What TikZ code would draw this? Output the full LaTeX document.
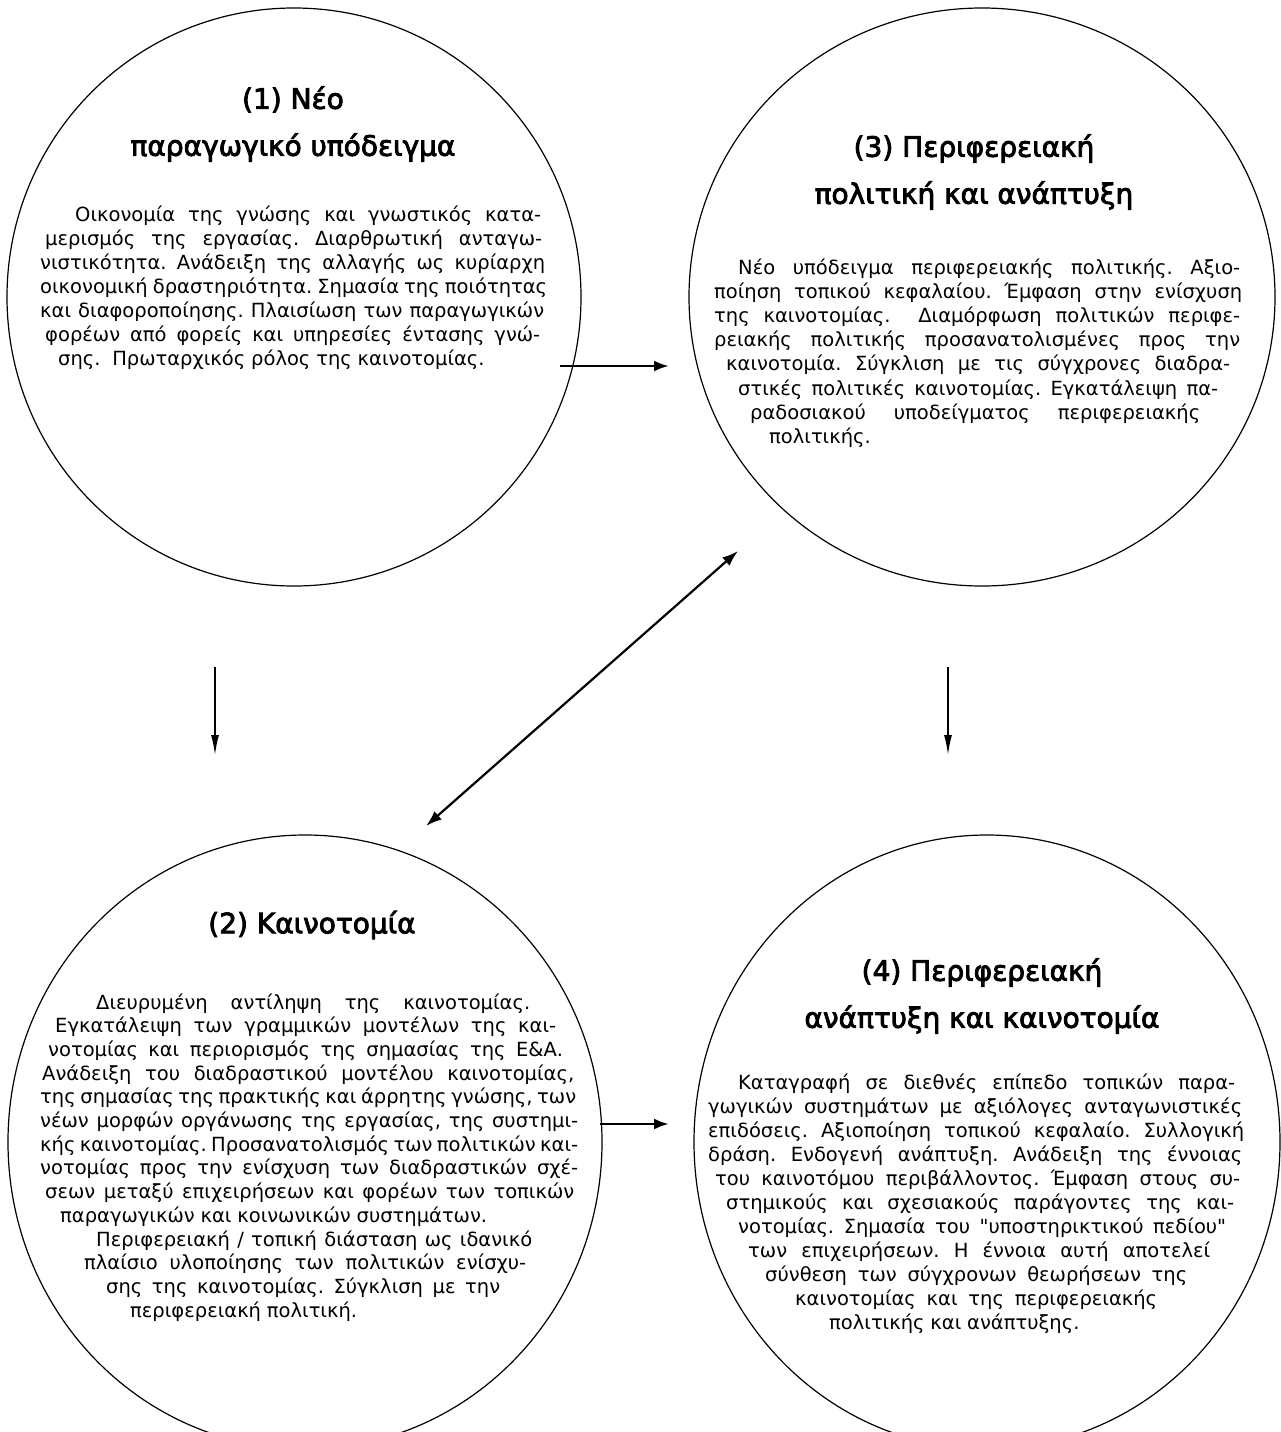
\documentclass[tikz,border=0pt]{standalone}
\usepackage{fontspec}
\setmainfont{DejaVu Sans}[Ligatures=TeXOff]
\newfontfamily\titlefam{DejaVu Sans}[FakeBold=3]
\usetikzlibrary{shapes.geometric,arrows.meta}
\newcommand\titlef{\titlefam\fontsize{28}{47}\selectfont}
\newcommand\bodyf{\fontsize{19.5}{24}\selectfont\frenchspacing\spaceskip=0.3em plus 1fil minus 0.15em\relax\lineskiplimit=-100pt\lineskip=0pt\relax}
\newcommand\JL[3]{\hbox{\hskip#1pt\hbox to \dimexpr#2pt-#1pt\relax{#3}}}
\newcommand\RL[2]{\hbox{\hskip#1pt #2}}
\tikzset{
  circ/.style={draw, ellipse, line width=1.2pt, inner sep=0pt, outer sep=0pt},
  ttl/.style={align=center, font=\titlef, inner sep=0pt},
  bodytext/.style={anchor=base west, inner sep=0pt, font=\bodyf},
  thickarrow/.style={line width=2.8pt, -{Latex[length=15pt,width=11pt]}},
  thinarrow/.style={line width=1.6pt, -{Latex[length=20pt,width=8pt]}},
  dblarrow/.style={line width=2.2pt, {Latex[length=16pt,width=11pt]}-{Latex[length=16pt,width=11pt]}},
}
\begin{document}
\begin{tikzpicture}[x=1pt,y=-1pt]
\useasboundingbox[fill=white] (0,0) rectangle (1280,1432);

% circles
\node[circ, minimum width=574pt, minimum height=578pt] (c1) at (294,297) {};
\node[circ, minimum width=586pt, minimum height=578pt] (c3) at (982,297) {};
\node[circ, minimum width=594pt, minimum height=614pt] (c2) at (305,1142) {};
\node[circ, minimum width=586pt, minimum height=614pt] (c4) at (987,1142) {};

% titles
\node[ttl] (t1) at (293,124) {(1) Νέο\\παραγωγικό υπόδειγμα};
\node[ttl] (t3) at (974,172) {(3) Περιφερειακή\\πολιτική και ανάπτυξη};
\node[ttl] (t2) at (312,925) {(2) Καινοτομία};
\node[ttl] (t4) at (982,996) {(4) Περιφερειακή\\ανάπτυξη και καινοτομία};

% body 1
\node[bodytext] (b1) at (0,221) {\vtop{\baselineskip=24pt
\JL{75}{541}{Οικονομία της γνώσης και γνωστικός κατα-}
\JL{45}{542}{μερισμός της εργασίας. Διαρθρωτική ανταγω-}
\JL{40}{545}{νιστικότητα. Ανάδειξη της αλλαγής ως κυρίαρχη}
\JL{40}{547}{οικονομική δραστηριότητα. Σημασία της ποιότητας}
\JL{40}{544}{και διαφοροποίησης. Πλαισίωση των παραγωγικών}
\JL{45}{540}{φορέων από φορείς και υπηρεσίες έντασης γνώ-}
\RL{58}{σης.\ \ Πρωταρχικός ρόλος της καινοτομίας.}}};

% body 3
\node[bodytext] (b3) at (0,274) {\vtop{\baselineskip=24.2pt
\JL{738}{1240}{Νέο υπόδειγμα περιφερειακής πολιτικής. Αξιο-}
\JL{714}{1242}{ποίηση τοπικού κεφαλαίου. Έμφαση στην ενίσχυση}
\JL{714}{1240}{της καινοτομίας.\ \ Διαμόρφωση πολιτικών περιφε-}
\JL{714}{1240}{ρειακής πολιτικής προσανατολισμένες προς την}
\JL{726}{1230}{καινοτομία. Σύγκλιση με τις σύγχρονες διαδρα-}
\JL{738}{1218}{στικές πολιτικές καινοτομίας. Εγκατάλειψη πα-}
\JL{750}{1200}{ραδοσιακού υποδείγματος περιφερειακής}
\RL{769}{πολιτικής.}}};

% body 2
\node[bodytext] (b2) at (0,1009) {\vtop{\baselineskip=23.7pt
\JL{96}{530}{Διευρυμένη αντίληψη της καινοτομίας.}
\JL{55}{556}{Εγκατάλειψη των γραμμικών μοντέλων της και-}
\JL{48}{563}{νοτομίας και περιορισμός της σημασίας της Ε\&Α.}
\JL{42}{574}{Ανάδειξη του διαδραστικού μοντέλου καινοτομίας,}
\JL{40}{576}{της σημασίας της πρακτικής και άρρητης γνώσης, των}
\JL{40}{578}{νέων μορφών οργάνωσης της εργασίας, της συστημι-}
\JL{40}{578}{κής καινοτομίας. Προσανατολισμός των πολιτικών και-}
\JL{40}{578}{νοτομίας προς την ενίσχυση των διαδραστικών σχέ-}
\JL{45}{574}{σεων μεταξύ επιχειρήσεων και φορέων των τοπικών}
\RL{60}{παραγωγικών και κοινωνικών συστημάτων.}
\JL{96}{532}{Περιφερειακή / τοπική διάσταση ως ιδανικό}
\JL{84}{526}{πλαίσιο υλοποίησης των πολιτικών ενίσχυ-}
\JL{106}{500}{σης της καινοτομίας. Σύγκλιση με την}
\RL{130}{περιφερειακή πολιτική.}}};

% body 4
\node[bodytext] (b4) at (0,1089) {\vtop{\baselineskip=24pt
\JL{738}{1235}{Καταγραφή σε διεθνές επίπεδο τοπικών παρα-}
\JL{708}{1242}{γωγικών συστημάτων με αξιόλογες ανταγωνιστικές}
\JL{708}{1244}{επιδόσεις. Αξιοποίηση τοπικού κεφαλαίο. Συλλογική}
\JL{708}{1242}{δράση. Ενδογενή ανάπτυξη. Ανάδειξη της έννοιας}
\JL{715}{1240}{του καινοτόμου περιβάλλοντος. Έμφαση στους συ-}
\JL{726}{1234}{στημικούς και σχεσιακούς παράγοντες της και-}
\JL{738}{1226}{νοτομίας. Σημασία του "υποστηρικτικού πεδίου"}
\JL{748}{1210}{των επιχειρήσεων. Η έννοια αυτή αποτελεί}
\JL{765}{1187}{σύνθεση των σύγχρονων θεωρήσεων της}
\JL{795}{1157}{καινοτομίας και της περιφερειακής}
\RL{829}{πολιτικής και ανάπτυξης.}}};

% connector end points
\coordinate (p13a) at (560,366);
\coordinate (p13b) at (669,366);
\coordinate (p12a) at (215,667);
\coordinate (p12b) at (215,755);
\coordinate (p34a) at (948,667);
\coordinate (p34b) at (948,755);
\coordinate (pda) at (426,826);
\coordinate (pdb) at (738,551);
\coordinate (p24a) at (600,1124);
\coordinate (p24b) at (669,1124);

\draw[thickarrow] (p13a) -- (p13b);
\draw[thinarrow] (p12a) -- (p12b);
\draw[thinarrow] (p34a) -- (p34b);
\draw[dblarrow] (pda) -- (pdb);
\draw[thickarrow] (p24a) -- (p24b);
\end{tikzpicture}
\end{document}
